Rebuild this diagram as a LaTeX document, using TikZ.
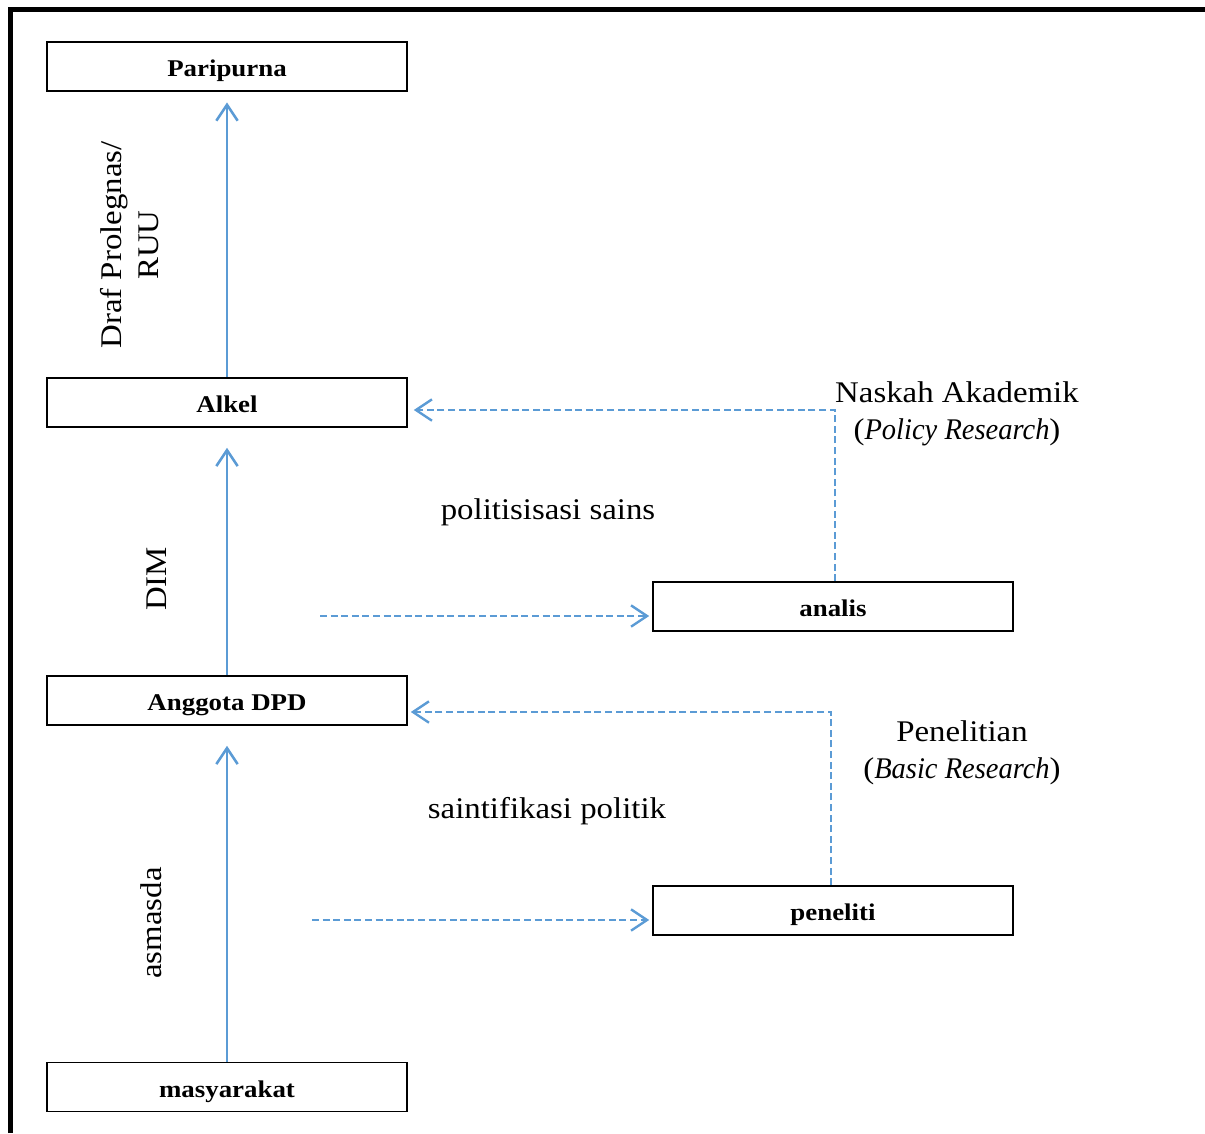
\documentclass[tikz,border=0pt]{standalone}
\usepackage{fontspec}
\setmainfont[FakeStretch=1.095,ItalicFeatures={FakeStretch=0.95}]{Liberation Serif}
\newfontfamily\boxfont[FakeStretch=1.12]{Liberation Serif}
\usetikzlibrary{arrows.meta,calc}
\definecolor{lineblue}{RGB}{91,155,213}
\begin{document}
\begin{tikzpicture}[x=0.75pt,y=-0.75pt,
 box/.style={draw=black,line width=1.2pt,minimum width=270pt,minimum height=36.75pt,inner sep=0pt,
   text height=16.5pt,text depth=1.5pt,font=\boxfont\bfseries\fontsize{18}{21}\selectfont},
 lab/.style={font=\fontsize{22.5}{27.75}\selectfont,inner sep=0pt},
 solidarr/.style={draw=lineblue,line width=1.9pt,-{Straight Barb[length=12pt,width=16pt,line width=1.9pt]}},
 dasharr/.style={draw=lineblue,line width=2pt,dash pattern=on 5.25pt off 2.7pt,-{Straight Barb[length=12pt,width=16pt,line width=1.8pt]}},
]
\useasboundingbox (0,0) rectangle (1205,1133);
\draw[line width=3.75pt] (10.5,1133) -- (10.5,9.5) -- (1205,9.5);

\node[box] (paripurna) at (227,66.5) {Paripurna};
\node[box] (alkel) at (227,402.5) {Alkel};
\node[box] (anggota) at (227,700.5) {Anggota DPD};
\node[box] (masyarakat) at (227,1087) {masyarakat};
\node[box] (analis) at (833,606.5) {analis};
\node[box] (peneliti) at (833,910.5) {peneliti};

\draw[solidarr,shorten >=8pt] (alkel.north) -- (paripurna.south);
\draw[solidarr,shorten >=15pt] (anggota.north) -- (alkel.south);
\draw[solidarr,shorten >=15pt] (masyarakat.north) -- (anggota.south);

\draw[dasharr,shorten >=4.5pt] ([xshift=1.5pt]analis.north) |- ($(alkel.east)+(0,7.5)$);
\draw[dasharr,shorten >=2.25pt] ([xshift=-1.5pt]peneliti.north) |- ($(anggota.east)+(0,11.5)$);
\coordinate (s1) at (320,616);
\draw[dasharr,shorten >=2.25pt] (s1) -- (s1 -| analis.west);
\coordinate (s2) at (312,920);
\draw[dasharr,shorten >=2.25pt] (s2) -- (s2 -| peneliti.west);

\node[lab,rotate=90,align=center] (draf) at (130,245) {Draf Prolegnas/\\RUU};
\node[lab,rotate=90] (dim) at (157,579) {DIM};
\node[lab,rotate=90] (asmasda) at (151,923) {asmasda};
\node[lab,align=center] (naskah) at (957,414) {Naskah Akademik\\(\textit{Policy Research})};
\node[lab,align=center] (penelitian) at (962,753) {Penelitian\\(\textit{Basic Research})};
\node[lab,anchor=base] (polsains) at (548,519) {politisisasi sains};
\node[lab,anchor=base] (saintpol) at (547,818) {saintifikasi politik};
\end{tikzpicture}
\end{document}
